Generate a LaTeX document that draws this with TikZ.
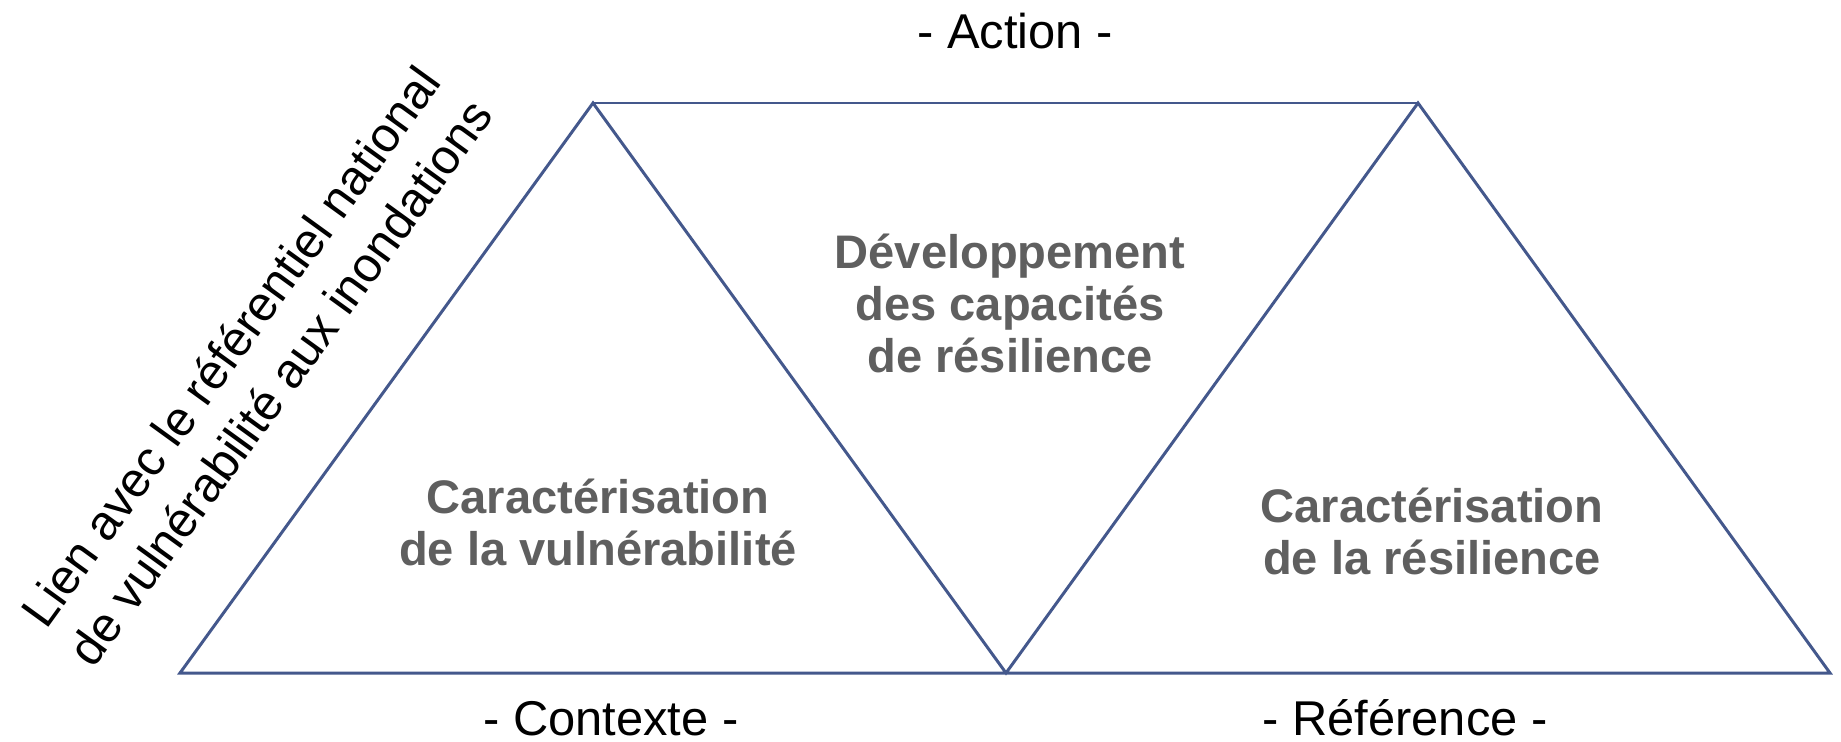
\documentclass[tikz,border=0pt]{standalone}
\usepackage{fontspec}
\setmainfont{Liberation Sans}
\usepackage{tikz}
\usepackage{xcolor}
\usetikzlibrary{positioning, calc}
\definecolor{edgeblue}{RGB}{68,88,140}
\definecolor{labelgray}{RGB}{95,95,95}

\begin{document}
\begin{tikzpicture}[scale=1.0,
  edge/.style={edgeblue, line width=0.85pt, line join=miter},
  tag/.style={font=\fontsize{13.9}{17.5}\selectfont, inner sep=0pt},
  zone/.style={font=\fontsize{13.4}{14.8}\selectfont\bfseries, text=labelgray, align=center}]
\useasboundingbox (0,0) rectangle (18.41,7.41);

% Corners of the zigzag
\coordinate (bl) at (1.80,0.68);
\coordinate (tl) at (5.93,6.38);
\coordinate (bm) at (10.06,0.68);
\coordinate (tr) at (14.18,6.38);
\coordinate (br) at (18.30,0.68);

% Three triangles
\draw[edge] (bl) -- (tl) -- (bm) -- (tr) -- (br) -- cycle;
\draw[edge] (tl) -- (tr);

% Zone labels
\node[zone] (vuln) at (5.98,2.19) {Caractérisation\\de la vulnérabilité};
\node[zone] (dev) at (10.10,4.38) {Développement\\des capacités\\de résilience};
\node[zone] (res) at (14.32,2.10) {Caractérisation\\de la résilience};

% Side labels
\node[tag, anchor=base] (action) at (10.15,6.93) {- Action -};
\node[tag, anchor=base] (contexte) at (6.11,0.06) {- Contexte -};
\node[tag, anchor=base] (reference) at (14.05,0.06) {- Référence -};
\node[tag, align=center, rotate=54.07] (lien) at (2.55,3.77)
  {Lien avec le référentiel national\\de vulnérabilité aux inondations};
\end{tikzpicture}
\end{document}
